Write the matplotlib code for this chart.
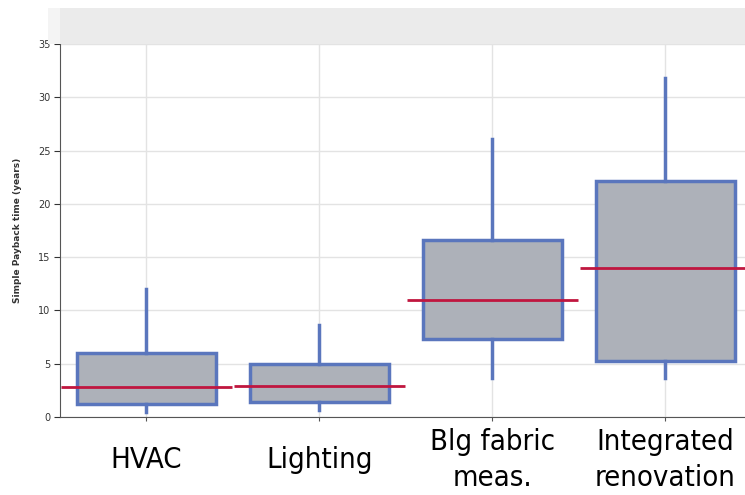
import matplotlib
matplotlib.use("Agg")
import matplotlib.pyplot as plt
from matplotlib.patches import Rectangle

categories = ["HVAC", "Lighting", "Blg fabric\nmeas.", "Integrated\nrenovation"]
whislo = [0.5, 0.7, 3.7, 3.7]
q1 = [1.2, 1.4, 7.3, 5.3]
med = [2.8, 2.9, 11.0, 14.0]
q3 = [6.0, 5.0, 16.6, 22.1]
whishi = [12.0, 8.6, 26.1, 31.8]

W, H = 745, 495
fig = plt.figure(figsize=(W / 100, H / 100), dpi=100)

# grey header band above the plot
fig.patches.append(Rectangle((48 / W, 1 - 44 / H), 12 / W, 36 / H, transform=fig.transFigure,
                             facecolor="#f4f4f4", edgecolor="none", zorder=0))
fig.patches.append(Rectangle((60 / W, 1 - 44 / H), 685 / W, 36 / H, transform=fig.transFigure,
                             facecolor="#ebebeb", edgecolor="none", zorder=0))

ax = fig.add_axes([60 / W, 78 / H, 685 / W, 373 / H])

pos = [i + 0.5 for i in range(len(categories))]
stats = []
for i in range(len(categories)):
    stats.append({"whislo": whislo[i], "q1": q1[i], "med": med[i], "q3": q3[i], "whishi": whishi[i]})

blue = "#5a76bd"
ax.bxp(stats, positions=pos, widths=0.8, patch_artist=True, showcaps=False, showfliers=False,
       boxprops=dict(facecolor="#adb1b9", edgecolor=blue, linewidth=2.5),
       whiskerprops=dict(color=blue, linewidth=2.5),
       medianprops=dict(visible=False), zorder=3)
# medians run across the whole category slot
ax.hlines(med, [p - 0.495 for p in pos], [p + 0.495 for p in pos], colors="#c0163f", linewidth=2, zorder=4)

ax.set_xlim(0, 3.96)
ax.set_ylim(0, 35)
ax.set_yticks(range(0, 36, 5))
ax.set_xticks(pos)
ax.set_xticklabels(categories, family=["DejaVu Sans"], fontstretch="condensed", fontsize=21,
                   linespacing=1.33, va="center")
ax.tick_params(axis="x", length=3, pad=28, color="#555555")
ax.tick_params(axis="y", length=4, labelsize=7, colors="#333333", pad=3)
ax.grid(True, color="#e3e3e3", linewidth=1, zorder=0)
ax.set_axisbelow(True)
for s in ["top", "right"]:
    ax.spines[s].set_visible(False)
ax.spines["left"].set_color("#555555")
ax.spines["bottom"].set_color("#555555")
ax.set_ylabel("Simple Payback time (years)", fontsize=6.5, fontweight="bold", color="#333333", labelpad=11)

fig.savefig("out.png", dpi=100)
